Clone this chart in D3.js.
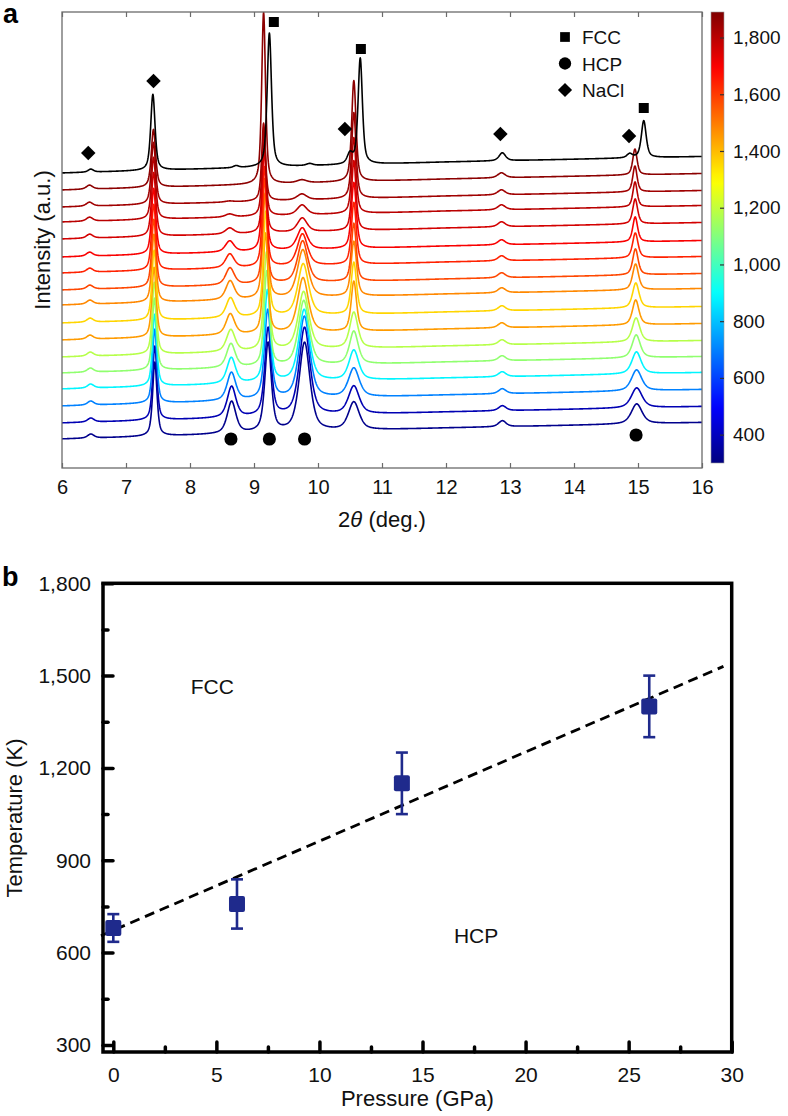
<!DOCTYPE html>
<html><head><meta charset="utf-8">
<script src="https://cdn.jsdelivr.net/npm/d3@7"></script>
<style>
body{margin:0;background:#fff;}
svg{display:block;font-family:"Liberation Sans",Arial,Helvetica,sans-serif;}
</style></head><body>
<svg id="chart" width="788" height="1116"></svg>
<script>
// ================= Panel a data =================
const twoThetaTicks = [6,7,8,9,10,11,12,13,14,15,16];
const colorbarTicks = [400,600,800,1000,1200,1400,1600,1800];
const colorbarDomain = [300,1890];
// trace 0 = black (top, quenched); traces 1..16 coloured by temperature (K)
const traceTemps   = [null,1870,1840,1800,1760,1700,1640,1580,1480,1360,1450,1180,1120,880,700,380,320];
const traceOffsets = [295,278,261,246,229,211,195,178,163,145,128,111,95,79,62,45,29];
const traceShift   = [0,-0.07,-0.07,-0.065,-0.06,-0.06,-0.055,-0.05,-0.045,-0.035,-0.04,-0.025,-0.02,-0.01,-0.005,0,0];
const bgKnots2theta = [6,9,12,16];
const bgKnotsLevel  = [0,5.5,11,16.5];
// coloured traces: peak positions (deg), relative thermal shift, per-trace heights / widths (traces 1..16)
const peakPos   = [6.45,7.45,8.65,9.22,9.79,10.56,12.88,14.98];
const peakShift = [0.3,0.3,0.5,1,0.6,0,0.2,0.4];
const h645  = [4,4,4,4,4,4,4,4,4,4,4,4,4,4,4,4];
const h745  = [58,62,62,64,66,66,68,68,70,70,72,72,72,74,74,74];
const h865  = [0,1,3,6,11,14,17,19,20,21,22,24,26,28,31,32];
const h922  = [172,78,85,95,100,100,105,105,105,100,98,95,92,89,88,89];
const h979  = [3,6,10,14,22,32,42,48,52,55,58,65,72,82,88,89];
const h1055 = [101,86,76,70,66,62,58,55,52,50,36,33,30,29,28,28];
const h1288 = [5,5,5,5,5,5,5,5,5,5,5,5,5,5,5,6];
const h1498 = [26,26,25,25,25,25,26,26,25,25,24,23,22,21,20,20];
const w645  = [0.12,0.12,0.12,0.12,0.12,0.12,0.12,0.12,0.12,0.12,0.12,0.12,0.12,0.12,0.12,0.12];
const w745  = [0.08,0.08,0.08,0.08,0.08,0.08,0.08,0.08,0.08,0.08,0.08,0.08,0.08,0.08,0.08,0.08];
const w865  = [0.16,0.16,0.16,0.16,0.16,0.16,0.16,0.16,0.16,0.16,0.16,0.16,0.16,0.16,0.16,0.16];
const w922  = [0.07,0.07,0.07,0.07,0.08,0.08,0.08,0.09,0.09,0.09,0.1,0.1,0.11,0.12,0.12,0.12];
const w979  = [0.18,0.18,0.18,0.18,0.19,0.19,0.19,0.2,0.2,0.2,0.2,0.2,0.2,0.2,0.2,0.2];
const w1055 = [0.08,0.08,0.08,0.08,0.09,0.09,0.09,0.1,0.1,0.1,0.15,0.16,0.18,0.2,0.2,0.2];
const w1288 = [0.14,0.14,0.14,0.14,0.14,0.14,0.14,0.14,0.14,0.14,0.14,0.14,0.14,0.14,0.14,0.14];
const w1498 = [0.08,0.08,0.08,0.09,0.09,0.1,0.1,0.11,0.12,0.12,0.14,0.15,0.17,0.19,0.2,0.2];
// black trace peaks
const blackPos = [6.45,7.42,8.72,9.24,9.87,10.50,10.66,12.88,14.87,15.09];
const blackH   = [3,76,2,134,2,10,106,8,4,37];
const blackW   = [0.1,0.08,0.1,0.08,0.12,0.1,0.08,0.12,0.1,0.09];
// phase markers (2theta, level in a.u.)
const fccMarkX  = [9.31,10.67,15.09];
const fccMarkY  = [446,419,360];
const naclMarkX = [6.41,7.43,10.42,12.85,14.86];
const naclMarkY = [315,387,339,334,332];
const hcpMarkX  = [8.64,9.24,9.79,14.97];
const hcpMarkY  = [29,29,29,33];
const legendLabels = ["FCC","HCP","NaCl"];

// ================= Panel b data =================
const pressure = [0,6,14,26];
const temperature = [680,758,1150,1400];
const tempErr = [45,80,100,100];
const fitP = [-0.6,29.6];
const fitT = [655,1530];
const pTicks = [0,5,10,15,20,25,30];
const pMinor = [2.5,7.5,12.5,17.5,22.5,27.5];
const tTicks = [300,600,900,1200,1500,1800];
const tMinor = [450,750,1050,1350,1650];
const regionLabels = ["FCC","HCP"];
const regionP = [4.8,17.6];
const regionT = [1464,657];

// ================= helpers =================
function jet(t){
  const c=v=>Math.max(0,Math.min(1,v));
  return d3.rgb(255*c(1.5-Math.abs(4*t-3)),255*c(1.5-Math.abs(4*t-2)),255*c(1.5-Math.abs(4*t-1))).formatHex();
}
function pv(xx,x0,h,w){const d=(xx-x0)/(w/2),d2=d*d;return h*(0.6/(1+d2)+0.4*Math.exp(-Math.LN2*d2));}

const svg = d3.select('#chart');
const A = {l:62,r:702,t:12,b:468};
const x = d3.scaleLinear().domain([6,16]).range([A.l,A.r]);
const y = d3.scaleLinear().domain([0,456]).range([A.b,A.t]);
const bg = d3.scaleLinear().domain(bgKnots2theta).range(bgKnotsLevel);
const tNorm = d3.scaleLinear().domain(colorbarDomain).range([0,1]).clamp(true);

svg.append('clipPath').attr('id','clipA').append('rect')
  .attr('x',A.l).attr('y',A.t).attr('width',A.r-A.l).attr('height',A.b-A.t);

const grid = d3.range(6,16.0001,0.005);
const Hs=[h645,h745,h865,h922,h979,h1055,h1288,h1498];
const Ws=[w645,w745,w865,w922,w979,w1055,w1288,w1498];
const traces = traceTemps.map((T,i)=>{
  let peaks;
  if(i===0){ peaks = blackPos.map((p,k)=>({pos:p,h:blackH[k],w:blackW[k]})); }
  else { peaks = peakPos.map((p,k)=>({pos:p+traceShift[i]*peakShift[k],h:Hs[k][i-1],w:Ws[k][i-1]})); }
  const pts = grid.map(g=>[g, traceOffsets[i]+bg(g)+d3.sum(peaks,pk=>pv(g,pk.pos,pk.h,pk.w))]);
  return {T,i,pts,color: T===null?'#000':jet(tNorm(T))};
});
const line = d3.line().x(d=>x(d[0])).y(d=>y(d[1]));
const gTr = svg.append('g').attr('clip-path','url(#clipA)');
traces.slice().reverse().forEach(tr=>{
  gTr.append('path').attr('d',line(tr.pts)).attr('fill','none')
    .attr('stroke',tr.color).attr('stroke-width',1.6).attr('stroke-linejoin','round');
});

// frame & axes panel a
const gridCol='#6b6b6b';
svg.append('rect').attr('x',A.l).attr('y',A.t).attr('width',A.r-A.l).attr('height',A.b-A.t)
  .attr('fill','none').attr('stroke',gridCol).attr('stroke-width',1.3);
const xb = svg.append('g').attr('transform',`translate(0,${A.b})`)
  .call(d3.axisBottom(x).tickValues(twoThetaTicks).tickSize(-5).tickPadding(12).tickFormat(d3.format('d')));
xb.select('.domain').remove();
xb.selectAll('line').attr('stroke',gridCol).attr('stroke-width',1.2);
xb.selectAll('text').attr('font-size',20).attr('fill','#111').attr('font-family','"Liberation Sans",Arial,sans-serif');
const xt = svg.append('g').attr('transform',`translate(0,${A.t})`)
  .call(d3.axisTop(x).tickValues(twoThetaTicks).tickSize(-5).tickFormat(''));
xt.select('.domain').remove();
xt.selectAll('line').attr('stroke',gridCol).attr('stroke-width',1.2);

const xl = svg.append('text').attr('x',(A.l+A.r)/2).attr('y',527).attr('text-anchor','middle')
  .attr('font-size',22).attr('fill','#111');
xl.append('tspan').text('2');
xl.append('tspan').attr('font-style','italic').text('θ');
xl.append('tspan').text(' (deg.)');
svg.append('text').attr('transform',`translate(50,240) rotate(-90)`).attr('text-anchor','middle')
  .attr('font-size',22).attr('fill','#111').text('Intensity (a.u.)');
svg.append('text').attr('x',3).attr('y',23).attr('font-size',27).attr('font-weight','bold').text('a');

// markers
const sym = d3.symbol();
function drawMarkers(xs,ys,type,size,rot){
  svg.append('g').selectAll('path').data(xs).join('path')
    .attr('transform',(d,k)=>`translate(${x(d)},${y(ys[k])}) rotate(${rot})`)
    .attr('d',sym.type(type).size(size)()).attr('fill','#000');
}
drawMarkers(fccMarkX,fccMarkY,d3.symbolSquare,100,0);
drawMarkers(naclMarkX,naclMarkY,d3.symbolSquare,105,45);
drawMarkers(hcpMarkX,hcpMarkY,d3.symbolCircle,135,0);

// legend
const legTypes=[[d3.symbolSquare,95,0],[d3.symbolCircle,120,0],[d3.symbolSquare,100,45]];
legendLabels.forEach((lab,k)=>{
  const cy=37+26.5*k;
  svg.append('path').attr('transform',`translate(565,${cy}) rotate(${legTypes[k][2]})`)
    .attr('d',d3.symbol().type(legTypes[k][0]).size(legTypes[k][1])()).attr('fill','#000');
  svg.append('text').attr('x',582).attr('y',cy+7).attr('font-size',19).attr('fill','#111').text(lab);
});

// colorbar
const cb = {x:711,w:13,t:12,b:463};
const cScale = d3.scaleLinear().domain(colorbarDomain).range([cb.b,cb.t]);
const grad = svg.append('defs').append('linearGradient').attr('id','jetGrad')
  .attr('x1',0).attr('y1',1).attr('x2',0).attr('y2',0);
d3.range(0,1.0001,0.02).forEach(t=>grad.append('stop').attr('offset',t).attr('stop-color',jet(t)));
svg.append('rect').attr('x',cb.x).attr('y',cb.t).attr('width',cb.w).attr('height',cb.b-cb.t)
  .attr('fill','url(#jetGrad)').attr('stroke','#999').attr('stroke-width',0.6);
const cbAx = svg.append('g').attr('transform',`translate(${cb.x+cb.w},0)`)
  .call(d3.axisRight(cScale).tickValues(colorbarTicks).tickSize(-4).tickPadding(9).tickFormat(d3.format(',')));
cbAx.select('.domain').remove();
cbAx.selectAll('line').attr('stroke','#333').attr('stroke-width',1.2);
cbAx.selectAll('text').attr('font-size',19).attr('fill','#111').attr('font-family','"Liberation Sans",Arial,sans-serif');

// ================= Panel b =================
const B = {l:103,r:731.7,t:583.3,b:1052};
const bx = d3.scaleLinear().domain([-0.5,30]).range([B.l,B.r]);
const by = d3.scaleLinear().domain([277,1800]).range([B.b,B.t]);

function styleAxis(g,w){
  g.select('.domain').remove();
  g.selectAll('line').attr('stroke','#000').attr('stroke-width',w).attr('stroke-linecap','round');
  g.selectAll('text').attr('font-size',21).attr('fill','#111').attr('font-family','"Liberation Sans",Arial,sans-serif');
}
styleAxis(svg.append('g').attr('transform',`translate(0,${B.b})`)
  .call(d3.axisBottom(bx).tickValues(pTicks).tickSize(-10).tickPadding(15).tickFormat(d3.format('d'))),3.5);
styleAxis(svg.append('g').attr('transform',`translate(0,${B.b})`)
  .call(d3.axisBottom(bx).tickValues(pMinor).tickSize(-5).tickFormat('')),3.5);
styleAxis(svg.append('g').attr('transform',`translate(${B.l},0)`)
  .call(d3.axisLeft(by).tickValues(tTicks).tickSize(-10).tickPadding(12).tickFormat(d3.format(','))),3.5);
styleAxis(svg.append('g').attr('transform',`translate(${B.l},0)`)
  .call(d3.axisLeft(by).tickValues(tMinor).tickSize(-5).tickFormat('')),3.5);

svg.append('rect').attr('x',B.l).attr('y',B.t).attr('width',B.r-B.l).attr('height',B.b-B.t)
  .attr('fill','none').attr('stroke','#000').attr('stroke-width',3.5);

// fit line
svg.append('path').attr('d',d3.line().x(d=>bx(d[0])).y(d=>by(d[1]))(fitP.map((p,k)=>[p,fitT[k]])))
  .attr('stroke','#000').attr('stroke-width',2.8).attr('stroke-dasharray','10,6').attr('fill','none');

// error bars + markers
const navy='#1f2a8c';
const gPts = svg.append('g');
pressure.forEach((p,k)=>{
  const cx=bx(p), y0=by(temperature[k]-tempErr[k]), y1=by(temperature[k]+tempErr[k]);
  gPts.append('line').attr('x1',cx).attr('x2',cx).attr('y1',y0).attr('y2',y1).attr('stroke',navy).attr('stroke-width',2.6);
  [y0,y1].forEach(yy=>gPts.append('line').attr('x1',cx-6).attr('x2',cx+6).attr('y1',yy).attr('y2',yy)
    .attr('stroke',navy).attr('stroke-width',2.6));
  gPts.append('rect').attr('x',cx-8).attr('y',by(temperature[k])-8).attr('width',16).attr('height',16)
    .attr('rx',2).attr('fill',navy);
});

regionLabels.forEach((lab,k)=>{
  svg.append('text').attr('x',bx(regionP[k])).attr('y',by(regionT[k])+7.5).attr('text-anchor','middle')
    .attr('font-size',21).attr('fill','#111').text(lab);
});

svg.append('text').attr('x',(B.l+B.r)/2).attr('y',1106).attr('text-anchor','middle')
  .attr('font-size',22).attr('fill','#111').text('Pressure (GPa)');
svg.append('text').attr('transform',`translate(22,818) rotate(-90)`).attr('text-anchor','middle')
  .attr('font-size',22).attr('fill','#111').text('Temperature (K)');
svg.append('text').attr('x',2).attr('y',586).attr('font-size',27).attr('font-weight','bold').text('b');
</script>
</body></html>
